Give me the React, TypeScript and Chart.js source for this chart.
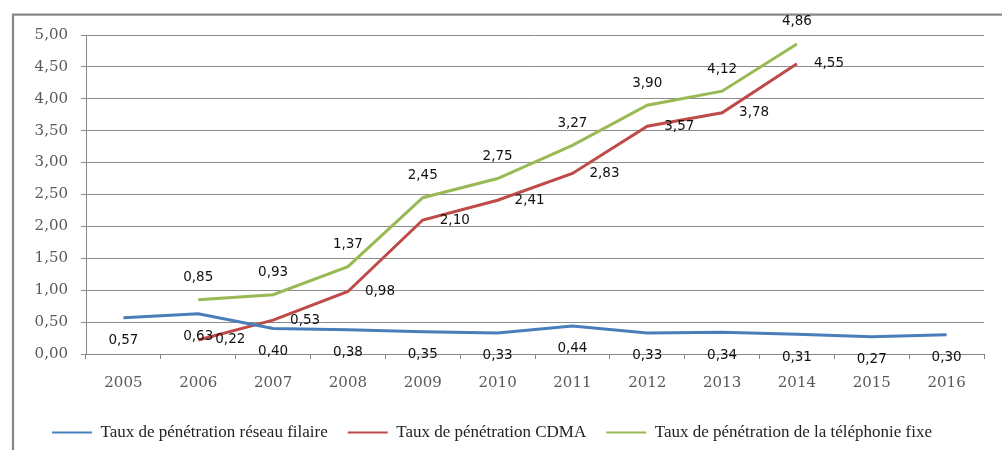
import React, { useEffect, useRef } from "react";
import { Chart, registerables } from "chart.js";

Chart.register(...registerables);

const years = ["2005", "2006", "2007", "2008", "2009", "2010", "2011", "2012", "2013", "2014", "2015", "2016"];
const filaire = [0.57, 0.63, 0.40, 0.38, 0.35, 0.33, 0.44, 0.33, 0.34, 0.31, 0.27, 0.30];
const cdma = [null, 0.22, 0.53, 0.98, 2.10, 2.41, 2.83, 3.57, 3.78, 4.55, null, null];
const fixe = [null, 0.85, 0.93, 1.37, 2.45, 2.75, 3.27, 3.90, 4.12, 4.86, null, null];
const seriesNames = [
  "Taux de pénétration réseau filaire",
  "Taux de pénétration CDMA",
  "Taux de pénétration de la téléphonie fixe",
];
const yMin = 0;
const yMax = 5;
const yStep = 0.5;

const fmt = (v: number) => v.toFixed(2).replace(".", ",");

// label placement per dataset: below / right / above
const labelPlacement = ["below", "right", "above"];

const borderPlugin = {
  id: "outerBorder",
  beforeDraw(chart: any) {
    const ctx = chart.ctx;
    ctx.save();
    ctx.strokeStyle = "#868686";
    ctx.lineWidth = 2.2;
    ctx.strokeRect(13, 14.6, 1200, 1200);
    ctx.restore();
  },
};

const labelPlugin = {
  id: "pointLabels",
  afterDatasetsDraw(chart: any) {
    const ctx = chart.ctx;
    ctx.save();
    ctx.font = '13.5px "DejaVu Sans"';
    ctx.fillStyle = "#111";
    chart.data.datasets.forEach((ds: any, di: number) => {
      const meta = chart.getDatasetMeta(di);
      const place = labelPlacement[di];
      meta.data.forEach((el: any, i: number) => {
        const v = ds.data[i];
        if (v == null) return;
        const t = fmt(v);
        let x = el.x;
        let y = el.y;
        if (place === "below") {
          ctx.textAlign = "center";
          ctx.textBaseline = "middle";
          y += 23;
        } else if (place === "right") {
          ctx.textAlign = "left";
          ctx.textBaseline = "middle";
          x += 17;
        } else {
          ctx.textAlign = "center";
          ctx.textBaseline = "middle";
          y -= 22;
        }
        ctx.fillText(t, x, y);
      });
    });
    ctx.restore();
  },
};

export default function App() {
  const ref = useRef<HTMLCanvasElement>(null);
  useEffect(() => {
    if (!ref.current) return;
    const chart = new Chart(ref.current, {
      type: "line",
      data: {
        labels: years,
        datasets: [
          { label: seriesNames[0], data: filaire, borderColor: "#4A7EBB", backgroundColor: "#4A7EBB" },
          { label: seriesNames[1], data: cdma, borderColor: "#BE4B48", backgroundColor: "#BE4B48" },
          { label: seriesNames[2], data: fixe, borderColor: "#98B954", backgroundColor: "#98B954" },
        ].map((d) => ({ ...d, borderWidth: 3, pointRadius: 0, tension: 0, spanGaps: false, fill: false })),
      },
      options: {
        animation: false,
        responsive: false,
        maintainAspectRatio: false,
        layout: { padding: { left: 0, right: 18, top: 35, bottom: -1 } },
        plugins: {
          tooltip: { enabled: false },
          legend: {
            position: "bottom",
            labels: {
              usePointStyle: true,
              pointStyle: "line",
              pointStyleWidth: 40,
              boxHeight: 17,
              padding: 20,
              color: "#222",
              font: { family: '"Liberation Serif"', size: 17 },
              generateLabels: (chart: any) => {
                const items = Chart.defaults.plugins.legend.labels.generateLabels(chart);
                return items.map((it: any) => ({ ...it, lineWidth: 2 }));
              },
            },
          },
        },
        scales: {
          x: {
            offset: true,
            grid: {
              display: true,
              offset: true,
              drawOnChartArea: false,
              drawTicks: true,
              tickLength: 5,
              color: "#868686",
            },
            border: { display: true, color: "#868686", width: 1 },
            ticks: {
              color: "#595959",
              padding: 15,
              maxRotation: 0,
              font: { family: '"DejaVu Serif"', size: 15 },
            },
            afterFit: (s: any) => {
              s.height = 50;
            },
          },
          y: {
            min: yMin,
            max: yMax,
            grid: { color: "#8c8c8c", tickLength: 5, lineWidth: 1 },
            border: { display: true, color: "#868686", width: 1 },
            ticks: {
              stepSize: yStep,
              color: "#595959",
              padding: 13,
              font: { family: '"DejaVu Serif"', size: 15 },
              callback: (v: any) => fmt(Number(v)),
            },
            afterFit: (s: any) => {
              s.width = 86;
            },
          },
        },
      },
      plugins: [borderPlugin, labelPlugin],
    });
    return () => chart.destroy();
  }, []);
  return (
    <div style={{ position: "absolute", left: 0, top: 0, width: 1002, height: 450, overflow: "hidden", background: "#fff" }}>
      <canvas ref={ref} width={1002} height={450} style={{ display: "block" }} />
    </div>
  );
}
